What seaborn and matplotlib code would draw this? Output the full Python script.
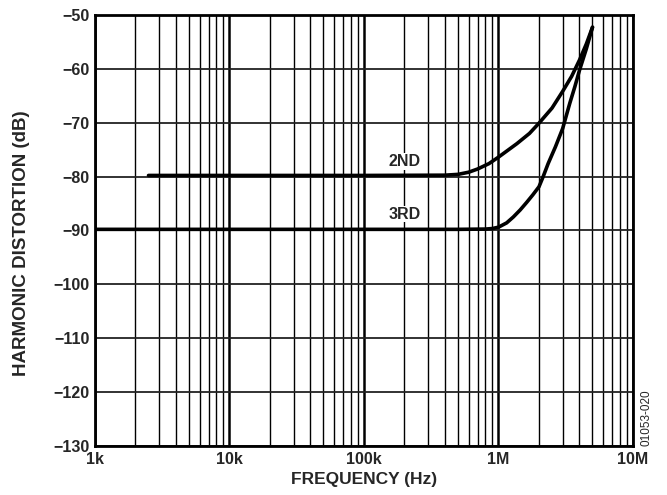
import numpy as np
import pandas as pd
import seaborn as sns
import matplotlib.pyplot as plt
from matplotlib.ticker import LogLocator, FixedLocator, NullFormatter

# Values
freq_2nd = [2.5e3, 1e4, 1e5, 4e5, 5e5, 6e5, 7e5, 8.5e5, 1.0e6, 1.37e6, 1.7e6,
            2.0e6, 2.5e6, 3.0e6, 3.5e6, 4.0e6, 4.5e6, 5.0e6]
hd_2nd = [-79.8, -79.8, -79.8, -79.75, -79.6, -79.2, -78.6, -77.6, -76.4, -73.9, -72.0,
          -70.1, -67.3, -64.2, -61.4, -58.4, -55.4, -52.3]

freq_3rd = [1e3, 1e4, 1e5, 5e5, 8e5, 9e5, 1.0e6, 1.15e6, 1.29e6, 1.45e6, 1.62e6, 1.8e6,
            2.0e6, 2.15e6, 2.34e6, 2.65e6, 3.0e6, 3.39e6, 3.7e6, 4.0e6, 4.5e6, 5.0e6]
hd_3rd = [-89.8, -89.8, -89.8, -89.8, -89.75, -89.65, -89.4, -88.6, -87.5, -86.2, -84.8,
          -83.4, -81.9, -80.0, -77.6, -74.5, -71.1, -66.4, -63.3, -60.3, -56.3, -52.3]

x_ticks = [1e3, 1e4, 1e5, 1e6, 1e7]
x_labels = ['1k', '10k', '100k', '1M', '10M']
y_ticks = [-130, -120, -110, -100, -90, -80, -70, -60, -50]
y_labels = ['\u2212130', '\u2212120', '\u2212110', '\u2212100', '\u221290',
            '\u221280', '\u221270', '\u221260', '\u221250']

sns.set_style('white')
plt.rcParams['font.family'] = ['Liberation Sans', 'DejaVu Sans']
plt.rcParams['font.weight'] = 'bold'

df = pd.concat([
    pd.DataFrame({'freq': freq_2nd, 'hd': hd_2nd, 'order': '2ND'}),
    pd.DataFrame({'freq': freq_3rd, 'hd': hd_3rd, 'order': '3RD'}),
])

fig = plt.figure(figsize=(6.67, 4.95), dpi=100)
ax = fig.add_axes([0.1424, 0.099, 0.8066, 0.871])

sns.lineplot(data=df, x='freq', y='hd', units='order', estimator=None,
             color='black', linewidth=2.6, sort=False, ax=ax, zorder=5)

ax.set_xscale('log')
ax.set_xlim(1e3, 1e7)
ax.set_ylim(-130, -50)

ax.xaxis.set_major_locator(FixedLocator(x_ticks))
ax.set_xticklabels(x_labels)
ax.xaxis.set_minor_locator(LogLocator(base=10, subs=np.arange(2, 10), numticks=20))
ax.xaxis.set_minor_formatter(NullFormatter())
ax.yaxis.set_major_locator(FixedLocator(y_ticks))
ax.set_yticklabels(y_labels)

ax.grid(True, which='major', axis='x', color='black', linewidth=1.8)
ax.grid(True, which='minor', axis='x', color='black', linewidth=1.0)
ax.grid(True, which='major', axis='y', color='#222222', linewidth=1.3)
ax.tick_params(axis='both', which='both', length=0, labelsize=11.5, pad=4)
for lab in ax.get_xticklabels() + ax.get_yticklabels():
    lab.set_fontweight('bold')

for s in ax.spines.values():
    s.set_color('black')
    s.set_linewidth(2)

ax.set_xlabel('FREQUENCY (Hz)', fontsize=12.5, fontweight='bold')
ax.set_ylabel('HARMONIC DISTORTION (dB)', fontsize=13.5, fontweight='bold')
ax.xaxis.set_label_coords(0.5, -0.06)
ax.yaxis.set_label_coords(-0.12, 0.47)

ax.text(2.0e5, -77.2, '2ND', fontsize=11.5, fontweight='bold', ha='center', va='center',
        bbox=dict(facecolor='white', edgecolor='none', pad=0.5), zorder=6)
ax.text(2.0e5, -87.0, '3RD', fontsize=11.5, fontweight='bold', ha='center', va='center',
        bbox=dict(facecolor='white', edgecolor='none', pad=0.5), zorder=6)

fig.text(0.970, 0.156, '01053-020', rotation=90, fontsize=8.5, fontweight='normal',
         ha='center', va='center')

fig.savefig('out.png', dpi=100)
